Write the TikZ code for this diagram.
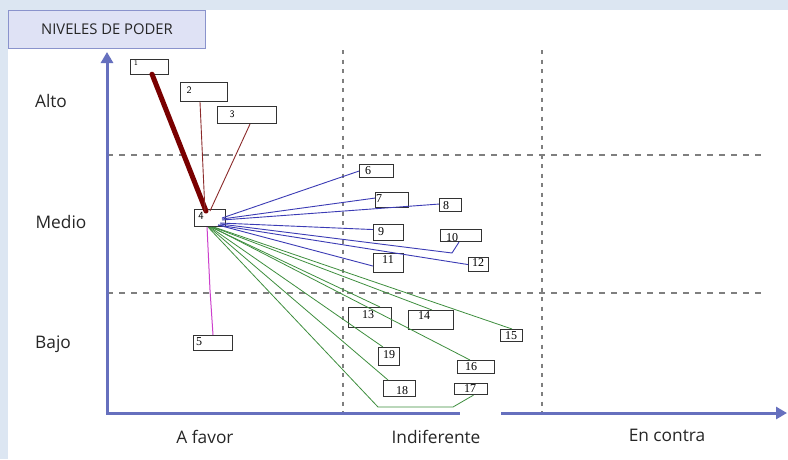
\documentclass[tikz,border=0pt]{standalone}
\usepackage{fontspec}
\setmainfont{Liberation Serif}
\newfontfamily\lblfont{Open Sans}
\usetikzlibrary{arrows.meta,calc}
\definecolor{bgblue}{HTML}{DCE6F2}
\definecolor{titlefill}{HTML}{DFE2F5}
\definecolor{titledraw}{HTML}{8A93CC}
\definecolor{axiscol}{HTML}{6670BE}
\definecolor{dashcol}{HTML}{7F7F7F}
\definecolor{darkred}{HTML}{7A0000}
\definecolor{thinred}{HTML}{8B2A2A}
\definecolor{blueline}{HTML}{3B3BB5}
\definecolor{greenline}{HTML}{3E8E3E}
\definecolor{magline}{HTML}{CC3FCC}
\definecolor{txtgray}{HTML}{262626}
\tikzset{
  nbox/.style={draw=black!80, line width=1.1pt, fill=white, inner sep=0pt, anchor=north west},
  numtxt/.style={inner sep=0pt, font=\fontsize{12}{12}\selectfont, text=black},
  axlbl/.style={inner sep=0pt, font=\lblfont\fontsize{17.3}{18}\selectfont, text=txtgray},
  axisline/.style={draw=axiscol, line width=3pt},
  hdash/.style={draw=dashcol, line width=2.2pt, dash pattern=on 6pt off 6pt},
  vdash/.style={draw=dashcol, line width=2.2pt, dash pattern=on 4pt off 5.5pt},
  redthin/.style={draw=thinred, line width=0.9pt},
  bluecon/.style={draw=blueline, line width=0.9pt},
  greencon/.style={draw=greenline, line width=0.8pt},
}
\begin{document}
\begin{tikzpicture}[x=1pt,y=-1pt]
\useasboundingbox (0,0) rectangle (788,459);
\fill[bgblue] (0,0) rectangle (788,459);
\fill[white] (8,10) rectangle (788,459);

% title
\node[draw=titledraw, fill=titlefill, line width=1pt, anchor=north west, minimum width=197pt, minimum height=38pt, inner sep=0pt, font=\lblfont\fontsize{14.8}{15}\selectfont, text=txtgray] (title) at (8,10) {NIVELES DE PODER};

% dashed grid
\draw[hdash] (107,155) -- (766,155);
\draw[hdash] (107,293) -- (766,293);
\draw[vdash] (343,50) -- (343,413);
\draw[vdash] (542,50) -- (542,413);

% axes
\draw[axisline, -{Triangle[length=11pt,width=12pt]}] (107,413) -- (107,52);
\draw[axisline] (106,413) -- (460,413);
\draw[axisline, -{Triangle[length=11pt,width=12pt]}] (501,413) -- (787,413);

% axis labels
\node[axlbl] (alto) at (51,101) {Alto};
\node[axlbl] (medio) at (61,222) {Medio};
\node[axlbl] (bajo) at (53,344) {Bajo};
\node[axlbl] (afavor) at (205,437) {A favor};
\node[axlbl] (indif) at (436,437) {Indiferente};
\node[axlbl] (encontra) at (667,435) {En contra};

% boxes
\node[nbox, minimum width=38pt, minimum height=15pt] (n1) at (130,59) {};
\node[nbox, minimum width=47pt, minimum height=19pt] (n2) at (180,82) {};
\node[nbox, minimum width=59pt, minimum height=17pt] (n3) at (217,106) {};
\node[nbox, minimum width=31pt, minimum height=17pt] (n4) at (194,209) {};
\node[nbox, minimum width=39pt, minimum height=15pt] (n5) at (193,335) {};
\node[nbox, minimum width=34pt, minimum height=13pt] (n6) at (359,164) {};
\node[nbox, minimum width=33pt, minimum height=15pt] (n7) at (375,192) {};
\node[nbox, minimum width=22pt, minimum height=13pt] (n8) at (439,198) {};
\node[nbox, minimum width=30pt, minimum height=16pt] (n9) at (373,224) {};
\node[nbox, minimum width=41pt, minimum height=12pt] (n10) at (440,229) {};
\node[nbox, minimum width=30pt, minimum height=19pt] (n11) at (373,253) {};
\node[nbox, minimum width=20pt, minimum height=14pt] (n12) at (468,257) {};
\node[nbox, minimum width=43pt, minimum height=20pt] (n13) at (348,307) {};
\node[nbox, minimum width=45pt, minimum height=19pt] (n14) at (408,310) {};
\node[nbox, minimum width=22pt, minimum height=12pt] (n15) at (500,329) {};
\node[nbox, minimum width=37pt, minimum height=13pt] (n16) at (457,360) {};
\node[nbox, minimum width=33pt, minimum height=11pt] (n17) at (454,383) {};
\node[nbox, minimum width=32pt, minimum height=16pt] (n18) at (383,380) {};
\node[nbox, minimum width=21pt, minimum height=18pt] (n19) at (378,347) {};

% box labels
\node[numtxt, font=\sffamily\fontsize{7}{7}\selectfont] (t1) at (136,63) {1};
\node[numtxt, font=\sffamily\fontsize{10}{10}\selectfont] (t2) at (189,90) {2};
\node[numtxt, font=\sffamily\fontsize{10}{10}\selectfont] (t3) at (232,114) {3};
\node[numtxt, font=\sffamily\fontsize{11}{11}\selectfont] (t4) at (201,216) {4};
\node[numtxt] (t5) at (199,342) {5};
\node[numtxt] (t6) at (368,171) {6};
\node[numtxt] (t7) at (379,199) {7};
\node[numtxt] (t8) at (446,206) {8};
\node[numtxt] (t9) at (381,232) {9};
\node[numtxt] (t10) at (452,238) {10};
\node[numtxt] (t11) at (388,260) {11};
\node[numtxt] (t12) at (478,263) {12};
\node[numtxt] (t13) at (368,315) {13};
\node[numtxt] (t14) at (424,316) {14};
\node[numtxt] (t15) at (511,336) {15};
\node[numtxt] (t16) at (471,367) {16};
\node[numtxt] (t17) at (470,389) {17};
\node[numtxt] (t18) at (402,391) {18};
\node[numtxt] (t19) at (389,355) {19};

% red connectors
\draw[draw=darkred, line width=5pt, line cap=round] ($(n1.south west)+(22,-1)$) -- ($(n4.north west)+(12,2)$);
\draw[redthin] ($(n2.south west)+(20,0)$) -- ($(n4.north west)+(11,3)$);
\draw[redthin] ($(n3.south west)+(33,0)$) -- ($(n4.north west)+(16,2)$);

% blue connectors
\draw[bluecon] ($(n4.north west)+(28,9)$) -- (n6.west);
\draw[bluecon] ($(n4.north west)+(28,10)$) -- ($(n7.west)+(0,-2)$);
\draw[bluecon] ($(n4.north west)+(28,11)$) -- ($(n8.west)+(0,-1)$);
\draw[bluecon] ($(n4.north west)+(26,14)$) -- ($(n9.west)+(0,-3)$);
\coordinate (b10) at (452,253);
\draw[bluecon] ($(n4.north west)+(26,15)$) -- (b10) -- ($(n10.south west)+(19,0)$);
\draw[bluecon] ($(n4.north west)+(24,16)$) -- ($(n11.west)+(0,3)$);
\draw[bluecon] ($(n4.north west)+(24,16)$) -- (n12.west);

% magenta connector
\coordinate (m5) at (210,290);
\draw[draw=magline, line width=1pt] ($(n4.south)+(-3,0)$) -- (m5) -- ($(n5.north west)+(20,0)$);

% green connectors
\draw[greencon] ($(n4.south)+(1,0)$) -- ($(n13.north west)+(32,0)$);
\draw[greencon] ($(n4.south)+(3,0)$) -- ($(n14.north west)+(24,0)$);
\draw[greencon] ($(n4.south)+(4,0)$) -- ($(n15.north west)+(12,0)$);
\draw[greencon] ($(n4.south)+(2,0)$) -- ($(n16.north west)+(13,0)$);
\draw[greencon] ($(n4.south)+(0,0)$) -- ($(n19.north west)+(5,0)$);
\draw[greencon] ($(n4.south)+(-1,0)$) -- ($(n18.north west)+(5,0)$);
\coordinate (g17a) at (378,407);
\coordinate (g17b) at (453,407);
\draw[greencon] ($(n4.south)+(-2,0)$) -- (g17a) -- (g17b) -- ($(n17.south)+(2.5,0)$);
\end{tikzpicture}
\end{document}
